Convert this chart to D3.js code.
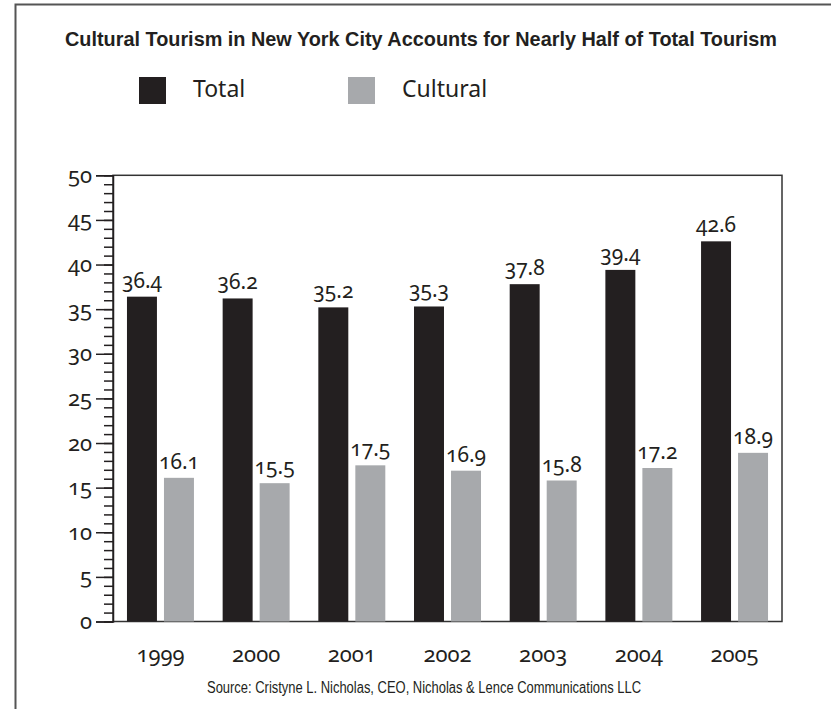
<!DOCTYPE html>
<html lang="en">
<head>
  <meta charset="utf-8">
  <title>Cultural Tourism in New York City</title>
  <script src="https://d3js.org/d3.v7.min.js"></script>
  <style>
    body { margin: 0; background: #fff; }
    .num { font-family: "Noto Sans", "Open Sans", sans-serif; font-variant-numeric: oldstyle-nums; fill: #231f20; }
    .cond { font-family: "Liberation Sans", Arial, sans-serif; fill: #231f20; }
  </style>
</head>
<body>
  <script>
    var width  = 831;
    var height = 709;

    // data
    var years    = ["1999", "2000", "2001", "2002", "2003", "2004", "2005"];
    var series   = ["Total", "Cultural"];
    var total    = [36.4, 36.2, 35.2, 35.3, 37.8, 39.4, 42.6];
    var cultural = [16.1, 15.5, 17.5, 16.9, 15.8, 17.2, 18.9];
    var colors   = ["#231f20", "#a7a9ac"];

    var rows = years.map(function(y, i) {
      return { year: y, values: [ {key: "Total", v: total[i]}, {key: "Cultural", v: cultural[i]} ] };
    });

    var plot = { left: 113, right: 782, top: 175.3, bottom: 621.5 };

    var svg = d3.select("body").append("svg")
      .attr("width", width)
      .attr("height", height);

    // outer frame (only top and left edges show)
    svg.append("rect")
      .attr("x", 15.5).attr("y", 4.5)
      .attr("width", 900).attr("height", 900)
      .attr("fill", "none")
      .attr("stroke", "#555").attr("stroke-width", 2);

    var x0 = d3.scaleBand()
      .domain(years)
      .range([plot.left, plot.right])
      .paddingInner(0.3)
      .paddingOuter(0.146);

    var x1 = d3.scaleBand()
      .domain(series)
      .range([0, x0.bandwidth()])
      .paddingInner(0.19);

    var y = d3.scaleLinear()
      .domain([0, 50])
      .range([plot.bottom, plot.top]);

    var color = d3.scaleOrdinal().domain(series).range(colors);

    // plot box
    svg.append("rect")
      .attr("x", plot.left).attr("y", plot.top)
      .attr("width", plot.right - plot.left)
      .attr("height", plot.bottom - plot.top)
      .attr("fill", "none")
      .attr("stroke", "#333").attr("stroke-width", 1.5);

    // minor ticks every 1
    svg.append("g")
      .attr("transform", "translate(" + plot.left + ",0)")
      .call(d3.axisLeft(y).tickValues(d3.range(0, 51, 1)).tickSize(9).tickFormat(""))
      .call(function(g) {
        g.select(".domain").remove();
        g.selectAll("line").attr("stroke", "#231f20").attr("stroke-width", 1.5);
      });

    // major ticks every 5
    svg.append("g")
      .attr("transform", "translate(" + plot.left + ",0)")
      .call(d3.axisLeft(y).tickValues(d3.range(0, 51, 5)).tickSize(17).tickPadding(4))
      .call(function(g) {
        g.select(".domain").attr("stroke", "#231f20").attr("stroke-width", 1.5);
        g.selectAll("line").attr("stroke", "#231f20").attr("stroke-width", 1.5);
        g.selectAll("text")
          .attr("class", "num")
          .attr("font-size", 22)
          .attr("fill", "#231f20");
      });

    var groups = svg.append("g").selectAll("g")
      .data(rows)
      .enter()
      .append("g")
      .attr("transform", function(d) { return "translate(" + x0(d.year) + ",0)"; });

    groups.selectAll("rect")
      .data(function(d) { return d.values; })
      .enter()
      .append("rect")
      .attr("x", function(d) { return x1(d.key); })
      .attr("y", function(d) { return y(d.v); })
      .attr("width", x1.bandwidth())
      .attr("height", function(d) { return y(0) - y(d.v); })
      .attr("fill", function(d) { return color(d.key); });

    groups.selectAll("text.val")
      .data(function(d) { return d.values; })
      .enter()
      .append("text")
      .attr("class", "num val")
      .attr("x", function(d) { return x1(d.key) + x1.bandwidth() / 2; })
      .attr("y", function(d) { return y(d.v) - 9; })
      .attr("text-anchor", "middle")
      .attr("font-size", 21)
      .text(function(d) { return d.v.toFixed(1); });

    // year labels
    svg.append("g").selectAll("text")
      .data(years)
      .enter()
      .append("text")
      .attr("class", "num")
      .attr("x", function(d) { return x0(d) + x0.bandwidth() / 2; })
      .attr("y", 662)
      .attr("text-anchor", "middle")
      .attr("font-size", 22)
      .text(function(d) { return d; });

    // title
    svg.append("text")
      .attr("class", "cond")
      .attr("x", 65).attr("y", 46)
      .attr("font-size", 21)
      .attr("font-weight", "bold")
      .attr("textLength", 712)
      .attr("lengthAdjust", "spacingAndGlyphs")
      .text("Cultural Tourism in New York City Accounts for Nearly Half of Total Tourism");

    // legend
    var legendX = [139, 348];
    var legend = svg.append("g").selectAll("g")
      .data(series)
      .enter()
      .append("g")
      .attr("transform", function(d, i) { return "translate(" + legendX[i] + ",77)"; });

    legend.append("rect")
      .attr("width", 27).attr("height", 27)
      .attr("fill", function(d) { return color(d); });

    legend.append("text")
      .attr("class", "num")
      .attr("x", 54).attr("y", 20)
      .attr("font-size", 23)
      .text(function(d) { return d; });

    // source
    svg.append("text")
      .attr("class", "cond")
      .attr("x", 207).attr("y", 693)
      .attr("font-size", 16)
      .attr("textLength", 434)
      .attr("lengthAdjust", "spacingAndGlyphs")
      .text("Source: Cristyne L. Nicholas, CEO, Nicholas & Lence Communications LLC");
  </script>
</body>
</html>
